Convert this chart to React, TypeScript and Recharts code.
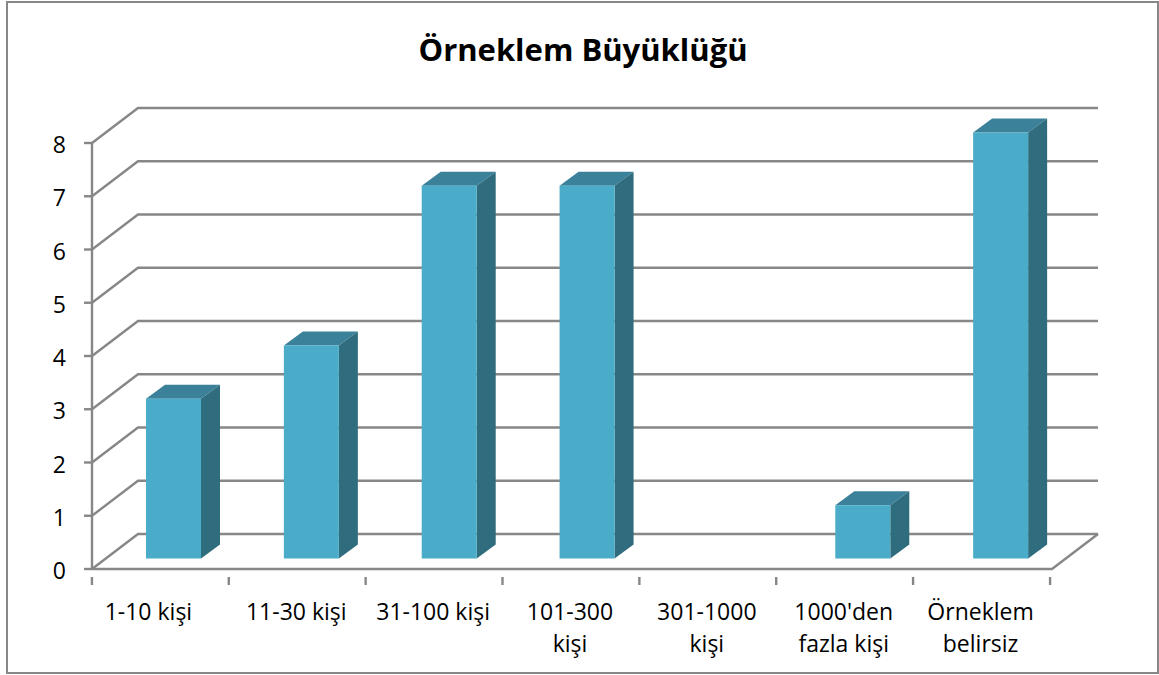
import { BarChart, Bar, XAxis, YAxis, CartesianGrid } from "recharts";

const categories = ["1-10 kişi", "11-30 kişi", "31-100 kişi", "101-300\nkişi", "301-1000\nkişi", "1000'den\nfazla kişi", "Örneklem\nbelirsiz"];
const counts = [3, 4, 7, 7, 0, 1, 8];
const yTicks = [0, 1, 2, 3, 4, 5, 6, 7, 8];

const data = categories.map((name, i) => ({ name, count: counts[i] }));

const FONT = "'Open Sans', sans-serif";
const GRID = "#878787";
// 3D look: how far the back wall sits from the front axes, and how deep a bar is
const WALL = { dx: 46, dy: -35 };
const DEPTH = { dx: 19, dy: -14 };
const BAR_SHIFT = { dx: 13, dy: -10.5 };
const STEP = 137;

function WallLine(props: any) {
  const { x1, x2, y1, index } = props;
  const bx = x1 + WALL.dx;
  const by = y1 + WALL.dy;
  const endX = x2 + 2;
  return (
    <g key={`wall-${index}-${y1}`}>
      <polyline points={`${x1},${y1} ${bx},${by} ${endX + WALL.dx},${by}`} fill="none" stroke={GRID} strokeWidth={2.4} />
      {y1 > 560 && (
        <polyline points={`${x2},${y1} ${endX},${y1} ${endX + WALL.dx},${by}`} fill="none" stroke={GRID} strokeWidth={2.4} />
      )}
    </g>
  );
}

function Bar3D(props: any) {
  const { width, height, index } = props;
  if (!height) return null;
  // the bars spread a little wider than the axis slots in the original
  const x = props.x + BAR_SHIFT.dx + index;
  const y = props.y + BAR_SHIFT.dy;
  const r = x + width;
  const b = y + height;
  return (
    <g>
      <polygon points={`${x},${y} ${x + DEPTH.dx},${y + DEPTH.dy} ${r + DEPTH.dx},${y + DEPTH.dy} ${r},${y}`} fill="#3A8199" />
      <polygon points={`${r},${y} ${r + DEPTH.dx},${y + DEPTH.dy} ${r + DEPTH.dx},${b + DEPTH.dy} ${r},${b}`} fill="#2F6C7D" />
      <rect x={x} y={y} width={width} height={height} fill="#4AACC8" />
    </g>
  );
}

function CategoryTick(props: any) {
  const { x, y, payload, index } = props;
  const lines = String(payload.value).split("\n");
  const left = x - STEP / 2;
  // the first label sits left of its slot in the original
  const cx = index === 0 ? x - 12 : x - 1;
  return (
    <g>
      <line x1={left} y1={y} x2={left} y2={y + 8} stroke={GRID} strokeWidth={2.4} />
      {index === categories.length - 1 && (
        <line x1={left + STEP} y1={y} x2={left + STEP} y2={y + 8} stroke={GRID} strokeWidth={2.4} />
      )}
      {lines.map((line, i) => (
        <text key={i} x={cx} y={y + 43 + i * 31.5} textAnchor="middle" fontFamily={FONT} fontSize={23} fill="#000">
          {line}
        </text>
      ))}
    </g>
  );
}

export default function App() {
  return (
    <div style={{ position: "absolute", left: 0, top: 0, width: 1159, height: 675, background: "#fff" }}>
      <div
        style={{
          position: "absolute",
          left: 6,
          top: 1,
          width: 1149,
          height: 669,
          border: "2px solid #878787",
        }}
      />
      <div
        style={{
          position: "absolute",
          left: 0,
          top: 27,
          width: 1166,
          textAlign: "center",
          fontFamily: FONT,
          fontWeight: 700,
          fontSize: 31,
          lineHeight: "44px",
          color: "#000",
        }}
      >
        Örneklem Büyüklüğü
      </div>
      <div style={{ position: "absolute", left: 0, top: 0 }}>
        <BarChart width={1159} height={675} data={data} barSize={55} margin={{ top: 143, right: 109, bottom: 0, left: 0 }}>
          <CartesianGrid vertical={false} horizontal={(p: any) => <WallLine {...p} />} />
          <XAxis
            dataKey="name"
            height={106}
            interval={0}
            tickLine={false}
            axisLine={{ stroke: GRID, strokeWidth: 2.4 }}
            tick={(p: any) => <CategoryTick {...p} />}
          />
          <YAxis
            width={92}
            domain={[0, 8]}
            ticks={yTicks}
            interval={0}
            tickSize={8}
            tickMargin={18}
            axisLine={{ stroke: GRID, strokeWidth: 2.4 }}
            tickLine={{ stroke: GRID, strokeWidth: 2.4 }}
            tick={{ fill: "#000", fontSize: 23, fontFamily: FONT, dy: 2 }}
          />
          <Bar dataKey="count" isAnimationActive={false} shape={(p: any) => <Bar3D {...p} />} />
        </BarChart>
      </div>
    </div>
  );
}
